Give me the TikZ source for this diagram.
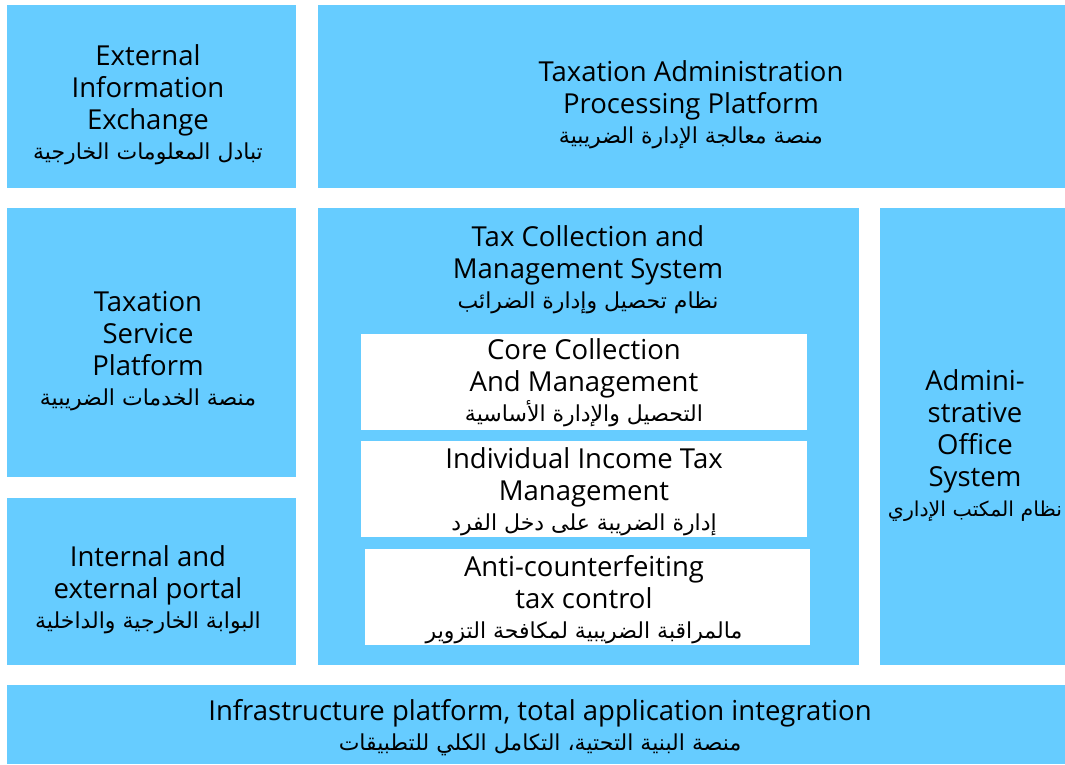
\documentclass[tikz,border=0pt]{standalone}
\usepackage{fontspec}
\setmainfont{Open Sans}
\newfontfamily\arabicfont[Script=Arabic]{DejaVu Sans}
\TeXXeTstate=1
\newcommand{\ar}[2][22]{{\arabicfont\fontsize{#1}{31}\selectfont\beginR #2\endR}}
\begin{document}
\begin{tikzpicture}[x=1pt,y=-1pt,
  blk/.style={fill=bluefill,draw=none},
  wbox/.style={fill=white,draw=none},
  txt/.style={align=center,inner sep=0pt,font=\fontsize{27.5}{32}\selectfont,text=black}]
\definecolor{bluefill}{HTML}{66CCFF}
\useasboundingbox (0,0) rectangle (1065,764);
% blocks
\path[blk] (7,5) rectangle (296,188);
\path[blk] (318,5) rectangle (1065,188);
\path[blk] (7,208) rectangle (296,477);
\path[blk] (7,498) rectangle (296,665);
\path[blk] (318,208) rectangle (859,665);
\path[blk] (880,208) rectangle (1065,665);
\path[blk] (7,685) rectangle (1065,764);
\path[wbox] (361,334) rectangle (807,430);
\path[wbox] (361,441) rectangle (807,537);
\path[wbox] (365,549) rectangle (810,645);
% texts
\node[txt] (ext) at (148,105) {External\\Information\\Exchange\\[-2pt]\ar{تبادل المعلومات الخارجية}};
\node[txt] (tap) at (691,105) {Taxation Administration\\Processing Platform\\[-2pt]\ar{منصة معالجة الإدارة الضريبية}};
\node[txt] (tsp) at (148,351) {Taxation\\Service\\Platform\\[-2pt]\ar{منصة الخدمات الضريبية}};
\node[txt] (iep) at (148,590) {Internal and\\external portal\\[-2pt]\ar{البوابة الخارجية والداخلية}};
\node[txt] (tcm) at (588,270) {Tax Collection and\\Management System\\[-2pt]\ar{نظام تحصيل وإدارة الضرائب}};
\node[txt] (ccm) at (584,383) {Core Collection\\And Management\\[-2pt]\ar{التحصيل والإدارة الأساسية}};
\node[txt] (iit) at (584,491.5) {Individual Income Tax\\Management\\[-2pt]\ar{إدارة الضريبة على دخل الفرد}};
\node[txt] (act) at (584,599.5) {Anti-counterfeiting\\tax control\\[-2pt]\ar{مالمراقبة الضريبية لمكافحة التزوير}};
\node[txt] (aos) at (975,445.5) {Admini-\\strative\\Office\\System\\[-2pt]\ar[20.5]{نظام المكتب الإداري}};
\node[txt] (inf) at (540,727.5) {Infrastructure platform, total application integration\\[-2pt]\ar{منصة البنية التحتية، التكامل الكلي للتطبيقات}};
\end{tikzpicture}
\end{document}
